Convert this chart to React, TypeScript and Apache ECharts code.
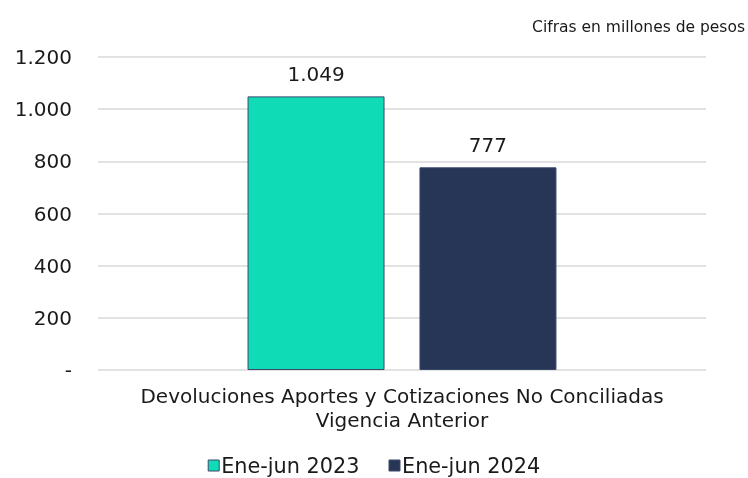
import React, { useEffect, useRef } from "react";
import * as echarts from "echarts";

const categories = ["Devoluciones Aportes y Cotizaciones No Conciliadas\nVigencia Anterior"];
const seriesNames = ["Ene-jun 2023", "Ene-jun 2024"];
const values2023 = [1049];
const values2024 = [777];
const seriesColors = ["#0fdbb6", "#273657"];

const fmt = (v: number) => {
  if (v === 0) return "-";
  return String(Math.round(v)).replace(/\B(?=(\d{3})+(?!\d))/g, ".");
};

export default function App() {
  const ref = useRef<HTMLDivElement>(null);
  useEffect(() => {
    const chart = echarts.init(ref.current!, undefined, { renderer: "svg" });
    const font = "DejaVu Sans, Verdana, sans-serif";
    const mk = (name: string, data: number[], color: string) => ({
      name,
      type: "bar",
      data,
      barWidth: 137,
      barGap: "25.5%",
      itemStyle: { color, borderColor: "#3b4a6b", borderWidth: 1 },
      label: {
        show: true,
        position: "top",
        distance: 12,
        formatter: (p: any) => fmt(p.value),
        color: "#1a1a1a",
        fontSize: 20,
        fontFamily: font,
      },
    });
    chart.setOption({
      animation: false,
      textStyle: { fontFamily: font },
      graphic: [
        {
          type: "text",
          right: 3,
          top: 19,
          style: { text: "Cifras en millones de pesos", fontSize: 15.5, fontFamily: font, fill: "#1a1a1a" },
        },
      ],
      grid: { left: 98, right: 42, top: 57, bottom: 108 },
      legend: {
        top: 455,
        left: "center",
        itemWidth: 11,
        itemHeight: 11,
        itemGap: 29,
        icon: "rect",
        padding: 0,
        textStyle: { fontSize: 20.8, color: "#1a1a1a", fontFamily: font, padding: [0, 0, 0, -3] },
        data: seriesNames.map((n, i) => ({
          name: n,
          itemStyle: { color: seriesColors[i], borderColor: "#3b4a6b", borderWidth: 1 },
        })),
      },
      xAxis: {
        type: "category",
        data: categories,
        axisLine: { show: false },
        axisTick: { show: false },
        axisLabel: { fontSize: 20, color: "#1a1a1a", fontFamily: font, margin: 14, lineHeight: 24 },
      },
      yAxis: {
        type: "value",
        min: 0,
        max: 1200,
        interval: 200,
        axisLine: { show: false },
        axisTick: { show: false },
        splitLine: { lineStyle: { color: "#d9d9d9", width: 1.5 } },
        axisLabel: {
          fontSize: 20,
          color: "#1a1a1a",
          fontFamily: font,
          margin: 26,
          formatter: (v: number) => fmt(v),
        },
      },
      series: [
        mk(seriesNames[0], values2023, seriesColors[0]),
        mk(seriesNames[1], values2024, seriesColors[1]),
      ],
    });
    return () => chart.dispose();
  }, []);
  return <div ref={ref} style={{ position: "fixed", left: 0, top: 0, width: 748, height: 478 }} />;
}
